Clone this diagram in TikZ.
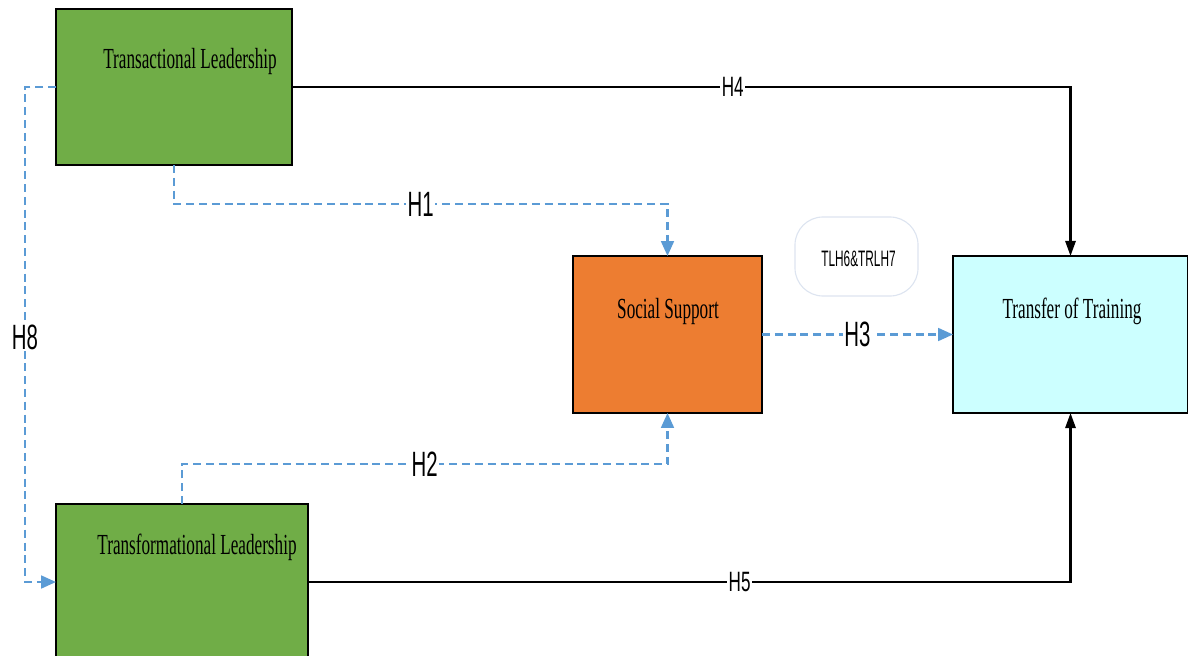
\documentclass[tikz,border=0pt]{standalone}
\usepackage{fontspec}
\setmainfont{Liberation Serif}
\newfontfamily\boxfont[FakeStretch=0.59]{Liberation Serif}
\newfontfamily\hypfont[FakeStretch=0.58]{Liberation Sans}
\newfontfamily\pathfont[FakeStretch=0.61]{Liberation Sans}
\newfontfamily\notefont[FakeStretch=0.53]{Liberation Sans}
\usepackage{xcolor}
\definecolor{leadgreen}{HTML}{70AD47}
\definecolor{supporange}{HTML}{ED7D31}
\definecolor{trainblue}{HTML}{CCFFFF}
\definecolor{hypblue}{HTML}{5B9BD5}
\definecolor{noteline}{HTML}{DDE4F0}
\usetikzlibrary{arrows.meta}

\begin{document}
\begin{tikzpicture}[x=0.025cm,y=-0.025cm,semithick]
              \tikzstyle{box}=[draw=black,line width=1.4pt,inner sep=0pt,outer sep=0pt]
              \tikzstyle{txt}=[font=\boxfont\fontsize{20.7}{24}\selectfont,inner sep=0pt]
              \tikzstyle{e}=[draw=black,line width=1.5pt,-{Triangle[length=0.38cm,width=0.26cm]}]
              \tikzstyle{d}=[draw=hypblue,line width=1.5pt,dash pattern=on 0.2cm off 0.12cm,
                             -{Triangle[length=0.37cm,width=0.32cm]}]
              \tikzstyle{hbig}=[fill=white,inner sep=1pt,font=\hypfont\fontsize{25}{28}\selectfont]
              \tikzstyle{hsmall}=[fill=white,inner sep=1pt,font=\pathfont\fontsize{19.9}{22}\selectfont]

              \useasboundingbox (0,0) rectangle (1188,656);

              \node[box,fill=leadgreen,minimum width=5.9cm,minimum height=3.9cm]    (tl) at (174,87)  {};
              \node[box,fill=leadgreen,minimum width=6.3cm,minimum height=3.9cm]    (tr) at (182,582) {};
              \node[box,fill=supporange,minimum width=4.725cm,minimum height=3.925cm] (ss) at (667.5,334.5) {};
              \node[box,fill=trainblue,minimum width=5.875cm,minimum height=3.925cm]  (tt) at (1070.5,334.5) {};
              \node[draw=noteline,line width=0.8pt,rounded corners=0.7cm,
                    minimum width=3.075cm,minimum height=1.975cm] (note) at (856.5,256.5) {};

              \node[txt] (tl-t) at (190,62)  {Transactional Leadership};
              \node[txt] (tr-t) at (197,547) {Transformational Leadership};
              \node[txt] (ss-t) at (668,311) {Social Support};
              \node[txt] (tt-t) at (1072,311) {Transfer of Training};
              \node[inner sep=0pt,font=\notefont\fontsize{15.9}{18}\selectfont] (note-t) at (858.5,259) {TLH6\&TRLH7};

              \coordinate (h1) at (0,204);
              \coordinate (h2) at (0,464);
              \coordinate (h8) at (25,337);

              \draw[d] (tl.south) -- (tl.south |- h1) -| node[hbig,pos=0.25] {H1} (ss.north);
              \draw[d] (tr.north) -- (tr.north |- h2) -| node[hbig,pos=0.25] {H2} (ss.south);
              \draw[d] (ss.east) -- node[hbig] {H3} (tt.west);
              \draw[d] (tl.west) -| (h8) node[hbig] {H8} |- (tr.west);
              \draw[e] (tl.east) -| node[hsmall,pos=0.283] {H4} (tt.north);
              \draw[e] (tr.east) -| node[hsmall,pos=0.283] {H5} (tt.south);

       \end{tikzpicture}
\end{document}
